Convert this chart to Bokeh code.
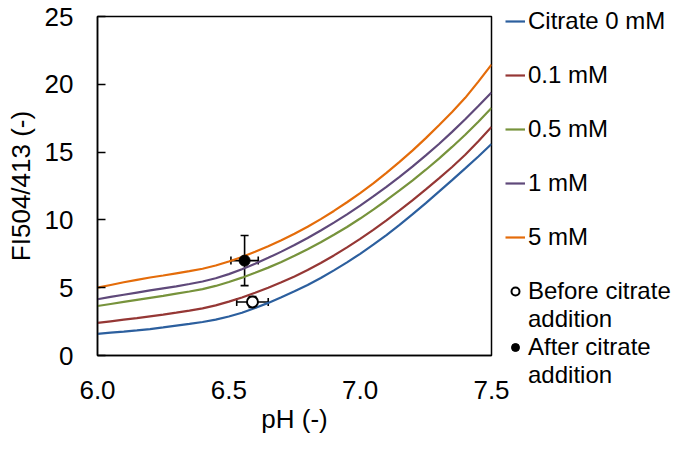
from bokeh.plotting import figure
from bokeh.models import (ColumnDataSource, Whisker, TeeHead, FixedTicker, Range1d,
                          PrintfTickFormatter, Legend, LegendItem)
from bokeh.embed import file_html
from bokeh.resources import INLINE

# ---- data ----
ph = [6.0, 6.05, 6.1, 6.15, 6.2, 6.25, 6.3, 6.35, 6.4, 6.45, 6.5, 6.55, 6.6, 6.65, 6.7, 6.75,
      6.8, 6.85, 6.9, 6.95, 7.0, 7.05, 7.1, 7.15, 7.2, 7.25, 7.3, 7.35, 7.4, 7.45, 7.5]
citrate_0mM = [1.6, 1.68, 1.76, 1.85, 1.95, 2.07, 2.2, 2.33, 2.47, 2.65, 2.88, 3.15, 3.5, 3.88,
               4.3, 4.73, 5.2, 5.72, 6.28, 6.87, 7.5, 8.17, 8.88, 9.63, 10.42, 11.24, 12.08,
               12.93, 13.8, 14.68, 15.6]
citrate_01mM = [2.4, 2.52, 2.64, 2.76, 2.89, 3.02, 3.16, 3.31, 3.48, 3.7, 3.97, 4.28, 4.63,
                5.0, 5.4, 5.83, 6.3, 6.82, 7.38, 7.97, 8.6, 9.27, 9.97, 10.7, 11.46, 12.25,
                13.06, 13.9, 14.8, 15.8, 16.85]
citrate_05mM = [3.65, 3.8, 3.95, 4.1, 4.25, 4.4, 4.56, 4.72, 4.9, 5.13, 5.42, 5.74, 6.1, 6.48,
                6.9, 7.35, 7.84, 8.35, 8.9, 9.48, 10.1, 10.76, 11.45, 12.17, 12.92, 13.7,
                14.52, 15.38, 16.28, 17.24, 18.25]
citrate_1mM = [4.15, 4.32, 4.48, 4.64, 4.8, 4.95, 5.1, 5.27, 5.46, 5.7, 6.0, 6.36, 6.77, 7.2,
               7.66, 8.15, 8.67, 9.22, 9.8, 10.41, 11.05, 11.73, 12.44, 13.18, 13.95, 14.76,
               15.6, 16.49, 17.42, 18.4, 19.4]
citrate_5mM = [5.0, 5.2, 5.4, 5.58, 5.75, 5.9, 6.06, 6.22, 6.4, 6.64, 6.93, 7.27, 7.65, 8.06,
               8.5, 8.98, 9.5, 10.06, 10.66, 11.3, 11.98, 12.7, 13.47, 14.28, 15.13, 16.03,
               16.98, 17.96, 19.0, 20.2, 21.45]
series_labels = ["Citrate 0 mM", "0.1 mM", "0.5 mM", "1 mM", "5 mM"]
series_colors = ["#2C5F9E", "#953735", "#77933C", "#5F497A", "#E46C0A"]

before_ph = [6.59]
before_fi = [3.95]
before_ph_err = [0.06]
before_fi_err = [0.4]
after_ph = [6.56]
after_fi = [7.0]
after_ph_err = [0.052]
after_fi_err = [1.85]
before_label = ["Before citrate", "addition"]
after_label = ["After citrate", "addition"]

x_ticks = [6.0, 6.5, 7.0, 7.5]
y_ticks = [0, 5, 10, 15, 20, 25]

FONT = "Liberation Sans"
FS = "26px"
LFS = "24px"

p = figure(frame_width=394, frame_height=339, output_backend="svg", toolbar_location=None,
           x_range=Range1d(6.0, 7.5), y_range=Range1d(0, 25),
           min_border_left=97, min_border_right=186, min_border_top=16, min_border_bottom=97)
p.grid.visible = False
p.outline_line_color = "black"
p.outline_line_width = 1.5
p.background_fill_color = "white"
p.border_fill_color = "white"

p.xaxis.ticker = FixedTicker(ticks=x_ticks)
p.xaxis.formatter = PrintfTickFormatter(format="%.1f")
p.yaxis.ticker = FixedTicker(ticks=y_ticks)
for ax in (p.xaxis[0], p.yaxis[0]):
    ax.axis_line_color = "black"
    ax.axis_line_width = 1.5
    ax.major_label_text_font = FONT
    ax.major_label_text_font_size = FS
    ax.major_label_text_color = "black"
    ax.axis_label_text_font = FONT
    ax.axis_label_text_font_size = FS
    ax.axis_label_text_font_style = "normal"
    ax.axis_label_text_color = "black"
    ax.minor_tick_line_color = None
p.xaxis.major_tick_in = 0
p.xaxis.major_tick_out = 0
p.xaxis.major_label_standoff = 25
p.xaxis.axis_label = "pH (-)"
p.xaxis.axis_label_standoff = 2
p.yaxis.major_tick_in = 8
p.yaxis.major_tick_out = 0
p.yaxis.major_tick_line_width = 1.5
p.yaxis.major_label_standoff = 24
p.yaxis.axis_label = "FI504/413 (-)"
p.yaxis.axis_label_standoff = 6

series = [citrate_0mM, citrate_01mM, citrate_05mM, citrate_1mM, citrate_5mM]
line_renderers = []
for vals, col in zip(series, series_colors):
    line_renderers.append(p.line(ph, vals, line_color=col, line_width=2.2))


def add_err(px, py, pxe, pye):
    src = ColumnDataSource(dict(
        x=px, y=py,
        xl=[a - b for a, b in zip(px, pxe)], xu=[a + b for a, b in zip(px, pxe)],
        yl=[a - b for a, b in zip(py, pye)], yu=[a + b for a, b in zip(py, pye)]))
    for dim, base, lo, up in (("height", "x", "yl", "yu"), ("width", "y", "xl", "xu")):
        w = Whisker(source=src, base=base, lower=lo, upper=up, dimension=dim,
                    line_color="black", line_width=1.6, level="underlay",
                    upper_head=TeeHead(size=8, line_width=1.6, line_color="black"),
                    lower_head=TeeHead(size=8, line_width=1.6, line_color="black"))
        p.add_layout(w)


add_err(before_ph, before_fi, before_ph_err, before_fi_err)
add_err(after_ph, after_fi, after_ph_err, after_fi_err)

r_before = p.scatter(before_ph, before_fi, size=11, marker="circle",
                     fill_color="white", line_color="black", line_width=2)
r_after = p.scatter(after_ph, after_fi, size=11, marker="circle",
                    fill_color="black", line_color="black", line_width=1)
# invisible renderer used only for spacer / continuation rows of the legend
r_blank = p.scatter(before_ph, before_fi, size=1, fill_alpha=0, line_alpha=0)

items = []
for lab, r in zip(series_labels, line_renderers):
    items.append(LegendItem(label=lab, renderers=[r]))
    items.append(LegendItem(label=" ", renderers=[r_blank]))
items[-1] = LegendItem(label=" ", renderers=[r_blank])
items.append(LegendItem(label=before_label[0], renderers=[r_before]))
items.append(LegendItem(label=before_label[1], renderers=[r_blank]))
items.append(LegendItem(label=after_label[0], renderers=[r_after]))
items.append(LegendItem(label=after_label[1], renderers=[r_blank]))

legend_kw = dict(items=items, location=(14, -34), orientation="vertical",
                 label_text_font=FONT, label_text_font_size=LFS, label_text_color="black",
                 glyph_width=20, glyph_height=26, label_height=26, spacing=0,
                 label_standoff=3, padding=0, margin=0,
                 border_line_color=None, background_fill_alpha=0)
try:
    legend = Legend(ncols=1, **legend_kw)
except AttributeError:
    legend = Legend(**legend_kw)
p.add_layout(legend, "right")

open("out.html", "w").write(file_html(p, INLINE))
